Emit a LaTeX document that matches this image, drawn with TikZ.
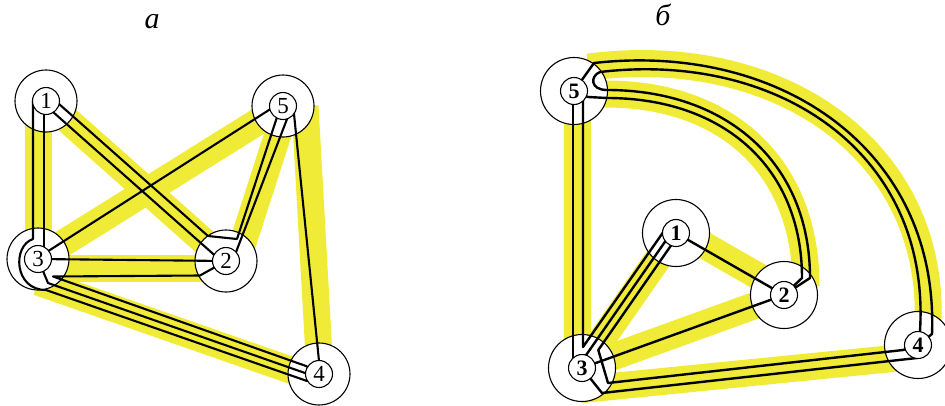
\documentclass[tikz,border=0pt]{standalone}
\usepackage{fontspec}
\setmainfont{Liberation Serif}
\usetikzlibrary{calc}
\definecolor{bandy}{RGB}{240,235,55}
\begin{document}
\begin{tikzpicture}[x=1pt,y=-1pt,
  bandline/.style={line width=27pt, draw=bandy},
  wire/.style={line width=2.1pt, line cap=round, line join=round},
  wireB/.style={line width=2.4pt, line cap=round, line join=round},
  outerA/.style={circle, draw, line width=1.1pt, fill=white, minimum size=62pt, inner sep=0pt},
  outerB/.style={circle, draw, line width=1.1pt, fill=white, minimum size=67pt, inner sep=0pt},
  innerA/.style={circle, draw, line width=1.1pt, fill=white, minimum size=27pt, inner sep=0pt, font=\fontsize{23}{23}\selectfont},
  innerB/.style={circle, draw, line width=1.1pt, fill=white, minimum size=27pt, inner sep=0pt, font=\fontsize{22}{22}\selectfont\bfseries},
  lab/.style={anchor=base, font=\fontsize{30}{30}\selectfont\itshape}
]
\useasboundingbox (0,0) rectangle (945,405);
\clip (0,0) rectangle (945,405);
% ---------- positions ----------
\coordinate (A1) at (46,101);
\coordinate (A2) at (226,261);
\coordinate (A3) at (38,259);
\coordinate (A4) at (319,374);
\coordinate (A5) at (283,106);
\coordinate (B1) at (676,233);
\coordinate (B2) at (784,295);
\coordinate (B3) at (582,368);
\coordinate (B4) at (918,345);
\coordinate (B5) at (574,91);
% ---------- labels ----------
\node[lab] (la) at (152,28) {а};
\node[lab] (lb) at (663,25) {б};
% ---------- yellow bands, left ----------
\draw[bandline] ($(A1)+(-7.5,0)$) -- ($(A3)+(0.5,0)$);
\draw[bandline] (A1) -- (A2);
\draw[bandline] (A5) -- (A3);
\draw[bandline] ($(A5)+(4,0)$) -- ($(A2)+(11,0)$);
\draw[bandline] ($(A5)+(22,0)$) -- ($(A4)+(1,0)$);
\draw[bandline] ($(A3)+(0,9)$) -- ($(A2)+(0,7)$);
\draw[bandline] ($(A3)+(0,23)$) -- ($(A4)+(0,6)$);
% ---------- yellow bands, right ----------
\draw[bandline] ($(B5)+(3,0)$) -- ($(B3)+(-5,0)$);
\draw[bandline] (B1) -- (B3);
\draw[bandline] ($(B1)+(0,-4)$) -- ($(B2)+(0,-4)$);
\draw[bandline] (B3) -- (B2);
\draw[bandline] ($(B3)+(0,21.5)$) -- ($(B4)+(0,11)$);
\draw[bandline] (590,94) -- (606,94) .. controls (725,94) and (806,165) .. (806,286);
\draw[bandline] (588,67) -- (598,66) .. controls (780,46) and (935,150) .. (928,324);
% ---------- outer circles ----------
\foreach \n in {1,...,5} {\node[outerA] (oA\n) at (A\n) {};}
\foreach \n in {1,...,5} {\node[outerB] (oB\n) at (B\n) {};}
% ---------- wires, left ----------
\draw[wire] (44,101) -- (44,259);
\draw[wire] (33,101) -- (33,239) .. controls (12,246) and (14,290) .. (46,290) -- (307,381) -- (A4);
\draw[wire] (44,104) -- (220,260);
\draw[wire] (50,96) -- (208,236) -- (237,239) -- (280,108);
\draw[wire] (289.9,111.5) -- (233.9,257.6);
\draw[wire] (275.7,105.7) -- (44.9,253.2);
\draw[wire] (293.2,106) -- (319.8,369);
\draw[wire] (A3) -- (A2);
\draw[wire] (A2) -- (200,275.5) -- (53,276.5) -- (306,366) -- (A4);
\draw[wire] (A3) -- (48,283) -- (305,373) -- (A4);
% ---------- wires, right ----------
\draw[wireB] (573,91) -- (573,366);
\draw[wireB] (583,91) -- (583,347) -- (667,226.7);
\draw[wireB] ($(B1)+(-3.3,-2.3)$) -- ($(B3)+(-3.3,-2.3)$);
\draw[wireB] ($(B1)+(2.5,1.7)$) -- (598.3,350) -- (608,383) -- (903,350) -- (B4);
\draw[wireB] (B3) -- (602,393) -- (917,358) -- (B4);
\draw[wireB] (B1) -- (B2);
\draw[wireB] (B3) -- (B2);
\draw[wireB] (607,90) .. controls (727,90) and (810,163) .. (810,278) -- (B2);
\draw[wireB] (B5) -- (588,97) -- (607,98) .. controls (723,98) and (802,167) .. (802,278) -- (B2);
\draw[wireB] (B5) -- (594,63) .. controls (780,42) and (939,150) .. (932,334) -- (B4);
\draw[wireB] (607,90) .. controls (590,90) and (590,76) .. (600,72) .. controls (777,51) and (931,152) .. (920,331) -- (B4);
% ---------- inner circles ----------
\foreach \n in {1,...,5} {\node[innerA] (iA\n) at (A\n) {\n};}
\foreach \n in {1,...,5} {\node[innerB] (iB\n) at (B\n) {\n};}
\end{tikzpicture}
\end{document}
